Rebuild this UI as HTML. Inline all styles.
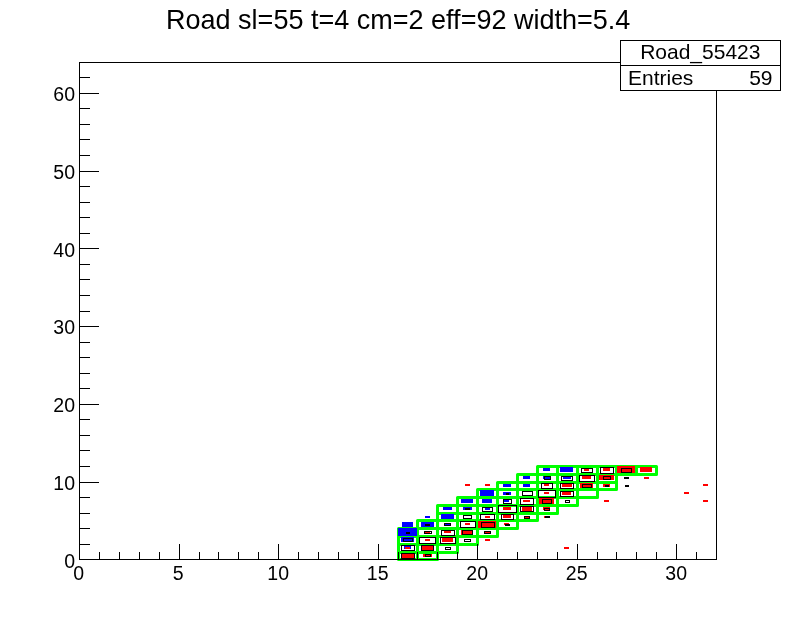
<!DOCTYPE html>
<html><head><meta charset="utf-8"><title>Road sl=55 t=4 cm=2 eff=92 width=5.4</title>
<style>html,body{margin:0;padding:0;background:#fff}svg{display:block}text{font-family:"Liberation Sans",sans-serif;fill:#000}</style></head><body>
<svg width="796" height="622" viewBox="0 0 796 622">
<rect x="0" y="0" width="796" height="622" fill="#fff"/>
<g shape-rendering="crispEdges">
<g fill="none" stroke="#00ff00" stroke-width="3" stroke-linejoin="round" shape-rendering="geometricPrecision">
<rect x="398.5" y="552.5" width="19.0" height="7.0"/>
<rect x="398.5" y="544.5" width="19.0" height="8.0"/>
<rect x="398.5" y="536.5" width="19.0" height="8.0"/>
<rect x="398.5" y="528.5" width="19.0" height="8.0"/>
<rect x="417.5" y="552.5" width="20.0" height="7.0"/>
<rect x="417.5" y="544.5" width="20.0" height="8.0"/>
<rect x="417.5" y="536.5" width="20.0" height="8.0"/>
<rect x="417.5" y="528.5" width="20.0" height="8.0"/>
<rect x="417.5" y="520.5" width="20.0" height="8.0"/>
<rect x="437.5" y="544.5" width="20.0" height="8.0"/>
<rect x="437.5" y="536.5" width="20.0" height="8.0"/>
<rect x="437.5" y="528.5" width="20.0" height="8.0"/>
<rect x="437.5" y="520.5" width="20.0" height="8.0"/>
<rect x="437.5" y="513.5" width="20.0" height="7.0"/>
<rect x="437.5" y="505.5" width="20.0" height="8.0"/>
<rect x="457.5" y="536.5" width="20.0" height="8.0"/>
<rect x="457.5" y="528.5" width="20.0" height="8.0"/>
<rect x="457.5" y="520.5" width="20.0" height="8.0"/>
<rect x="457.5" y="513.5" width="20.0" height="7.0"/>
<rect x="457.5" y="505.5" width="20.0" height="8.0"/>
<rect x="457.5" y="497.5" width="20.0" height="8.0"/>
<rect x="477.5" y="528.5" width="20.0" height="8.0"/>
<rect x="477.5" y="520.5" width="20.0" height="8.0"/>
<rect x="477.5" y="513.5" width="20.0" height="7.0"/>
<rect x="477.5" y="505.5" width="20.0" height="8.0"/>
<rect x="477.5" y="497.5" width="20.0" height="8.0"/>
<rect x="477.5" y="489.5" width="20.0" height="8.0"/>
<rect x="497.5" y="520.5" width="20.0" height="8.0"/>
<rect x="497.5" y="513.5" width="20.0" height="7.0"/>
<rect x="497.5" y="505.5" width="20.0" height="8.0"/>
<rect x="497.5" y="497.5" width="20.0" height="8.0"/>
<rect x="497.5" y="489.5" width="20.0" height="8.0"/>
<rect x="497.5" y="482.5" width="20.0" height="7.0"/>
<rect x="517.5" y="513.5" width="20.0" height="7.0"/>
<rect x="517.5" y="505.5" width="20.0" height="8.0"/>
<rect x="517.5" y="497.5" width="20.0" height="8.0"/>
<rect x="517.5" y="489.5" width="20.0" height="8.0"/>
<rect x="517.5" y="482.5" width="20.0" height="7.0"/>
<rect x="517.5" y="474.5" width="20.0" height="8.0"/>
<rect x="537.5" y="505.5" width="20.0" height="8.0"/>
<rect x="537.5" y="497.5" width="20.0" height="8.0"/>
<rect x="537.5" y="489.5" width="20.0" height="8.0"/>
<rect x="537.5" y="482.5" width="20.0" height="7.0"/>
<rect x="537.5" y="474.5" width="20.0" height="8.0"/>
<rect x="537.5" y="466.5" width="20.0" height="8.0"/>
<rect x="557.5" y="497.5" width="20.0" height="8.0"/>
<rect x="557.5" y="489.5" width="20.0" height="8.0"/>
<rect x="557.5" y="482.5" width="20.0" height="7.0"/>
<rect x="557.5" y="474.5" width="20.0" height="8.0"/>
<rect x="557.5" y="466.5" width="20.0" height="8.0"/>
<rect x="577.5" y="489.5" width="20.0" height="8.0"/>
<rect x="577.5" y="482.5" width="20.0" height="7.0"/>
<rect x="577.5" y="474.5" width="20.0" height="8.0"/>
<rect x="577.5" y="466.5" width="20.0" height="8.0"/>
<rect x="597.5" y="482.5" width="19.0" height="7.0"/>
<rect x="597.5" y="474.5" width="19.0" height="8.0"/>
<rect x="597.5" y="466.5" width="19.0" height="8.0"/>
<rect x="616.5" y="466.5" width="20.0" height="8.0"/>
<rect x="636.5" y="466.5" width="20.0" height="8.0"/>
</g>
<g fill="#0000ff">
<rect x="404" y="546" width="7" height="3"/>
<rect x="401" y="537" width="13" height="5"/>
<rect x="398" y="528" width="19" height="8"/>
<rect x="402" y="522" width="11" height="5"/>
<rect x="421" y="522" width="13" height="5"/>
<rect x="425" y="516" width="5" height="2"/>
<rect x="445" y="523" width="5" height="2"/>
<rect x="441" y="514" width="13" height="5"/>
<rect x="443" y="507" width="9" height="3"/>
<rect x="463" y="507" width="9" height="3"/>
<rect x="461" y="499" width="12" height="4"/>
<rect x="485" y="508" width="5" height="2"/>
<rect x="482" y="499" width="10" height="4"/>
<rect x="480" y="490" width="14" height="6"/>
<rect x="504" y="500" width="5" height="2"/>
<rect x="503" y="492" width="8" height="3"/>
<rect x="503" y="484" width="8" height="3"/>
<rect x="523" y="484" width="7" height="3"/>
<rect x="523" y="476" width="7" height="3"/>
<rect x="543" y="476" width="8" height="3"/>
<rect x="543" y="468" width="7" height="3"/>
<rect x="563" y="476" width="8" height="3"/>
<rect x="560" y="467" width="13" height="5"/>
</g>
<g fill="#ff0000">
<rect x="401" y="553" width="13" height="5"/>
<rect x="405" y="547" width="5" height="2"/>
<rect x="423" y="554" width="9" height="3"/>
<rect x="421" y="545" width="13" height="5"/>
<rect x="425" y="539" width="5" height="2"/>
<rect x="425" y="531" width="5" height="2"/>
<rect x="442" y="538" width="11" height="4"/>
<rect x="444" y="531" width="7" height="2"/>
<rect x="461" y="530" width="12" height="5"/>
<rect x="465" y="523" width="5" height="2"/>
<rect x="485" y="539" width="5" height="2"/>
<rect x="485" y="531" width="5" height="2"/>
<rect x="478" y="521" width="18" height="7"/>
<rect x="485" y="516" width="5" height="2"/>
<rect x="504" y="523" width="5" height="2"/>
<rect x="503" y="515" width="8" height="3"/>
<rect x="524" y="516" width="5" height="2"/>
<rect x="544" y="516" width="5" height="2"/>
<rect x="564" y="547" width="5" height="2"/>
<rect x="465" y="484" width="5" height="2"/>
<rect x="485" y="484" width="5" height="2"/>
<rect x="503" y="507" width="8" height="3"/>
<rect x="522" y="507" width="10" height="4"/>
<rect x="523" y="500" width="7" height="2"/>
<rect x="543" y="507" width="7" height="3"/>
<rect x="539" y="498" width="15" height="6"/>
<rect x="544" y="492" width="5" height="2"/>
<rect x="544" y="484" width="5" height="2"/>
<rect x="562" y="492" width="9" height="3"/>
<rect x="562" y="484" width="10" height="3"/>
<rect x="580" y="483" width="13" height="5"/>
<rect x="582" y="476" width="9" height="3"/>
<rect x="584" y="469" width="5" height="2"/>
<rect x="604" y="500" width="5" height="2"/>
<rect x="603" y="484" width="7" height="3"/>
<rect x="599" y="475" width="15" height="5"/>
<rect x="603" y="468" width="7" height="3"/>
<rect x="617" y="466" width="18" height="7"/>
<rect x="640" y="467" width="12" height="5"/>
<rect x="644" y="477" width="5" height="2"/>
<rect x="684" y="492" width="5" height="2"/>
<rect x="703" y="484" width="5" height="2"/>
<rect x="703" y="500" width="5" height="2"/>
</g>
<g fill="none" stroke="#000" stroke-width="1">
<rect x="401.5" y="553.5" width="13" height="5"/>
<rect x="401.5" y="545.5" width="13" height="5"/>
<rect x="403.5" y="538.5" width="9" height="3"/>
<rect x="406" y="532" width="4" height="2" fill="#000" stroke="none"/>
<rect x="425.5" y="554.5" width="5" height="2"/>
<rect x="421.5" y="545.5" width="12" height="5"/>
<rect x="419.5" y="537.5" width="16" height="6"/>
<rect x="424.5" y="531.5" width="7" height="2"/>
<rect x="425" y="524" width="5" height="2" fill="#000" stroke="none"/>
<rect x="445.5" y="547.5" width="5" height="2"/>
<rect x="440.5" y="537.5" width="15" height="6"/>
<rect x="441.5" y="530.5" width="13" height="5"/>
<rect x="444.5" y="523.5" width="6" height="2"/>
<rect x="464.5" y="539.5" width="6" height="2"/>
<rect x="462.5" y="530.5" width="10" height="4"/>
<rect x="460.5" y="521.5" width="15" height="6"/>
<rect x="463.5" y="515.5" width="8" height="3"/>
<rect x="484.5" y="531.5" width="6" height="2"/>
<rect x="481.5" y="522.5" width="13" height="5"/>
<rect x="480.5" y="514.5" width="14" height="5"/>
<rect x="505" y="524" width="5" height="2" fill="#000" stroke="none"/>
<rect x="501.5" y="514.5" width="12" height="5"/>
<rect x="524.5" y="516.5" width="5" height="2"/>
<rect x="545" y="516" width="5" height="2" fill="#000" stroke="none"/>
<rect x="465" y="508" width="5" height="2" fill="#000" stroke="none"/>
<rect x="482.5" y="507.5" width="10" height="4"/>
<rect x="498.5" y="505.5" width="18" height="7"/>
<rect x="503.5" y="499.5" width="8" height="4"/>
<rect x="506" y="493" width="3" height="2" fill="#000" stroke="none"/>
<rect x="520.5" y="506.5" width="13" height="5"/>
<rect x="520.5" y="498.5" width="13" height="6"/>
<rect x="522.5" y="491.5" width="10" height="4"/>
<rect x="544.5" y="508.5" width="5" height="2"/>
<rect x="542.5" y="499.5" width="9" height="4"/>
<rect x="538.5" y="490.5" width="17" height="7"/>
<rect x="541.5" y="483.5" width="11" height="5"/>
<rect x="544.5" y="476.5" width="6" height="3"/>
<rect x="565.5" y="500.5" width="4" height="2"/>
<rect x="560.5" y="491.5" width="13" height="5"/>
<rect x="560.5" y="483.5" width="13" height="5"/>
<rect x="561.5" y="476.5" width="11" height="4"/>
<rect x="582.5" y="484.5" width="9" height="3"/>
<rect x="579.5" y="475.5" width="15" height="6"/>
<rect x="581.5" y="468.5" width="11" height="4"/>
<rect x="605" y="485" width="4" height="2" fill="#000" stroke="none"/>
<rect x="603.5" y="476.5" width="7" height="3"/>
<rect x="600.5" y="467.5" width="13" height="6"/>
<rect x="621.5" y="468.5" width="10" height="4"/>
<rect x="624" y="477" width="5" height="2" fill="#000" stroke="none"/>
<rect x="625" y="485" width="4" height="2" fill="#000" stroke="none"/>
</g>
</g>
<g stroke="#000" stroke-width="1" fill="none" shape-rendering="crispEdges">
<rect x="79.5" y="62.5" width="637.0" height="497.0"/>
<line x1="79.5" y1="559.5" x2="79.5" y2="543.5"/>
<line x1="99.5" y1="559.5" x2="99.5" y2="551.5"/>
<line x1="119.5" y1="559.5" x2="119.5" y2="551.5"/>
<line x1="139.5" y1="559.5" x2="139.5" y2="551.5"/>
<line x1="159.5" y1="559.5" x2="159.5" y2="551.5"/>
<line x1="179.5" y1="559.5" x2="179.5" y2="543.5"/>
<line x1="199.5" y1="559.5" x2="199.5" y2="551.5"/>
<line x1="218.5" y1="559.5" x2="218.5" y2="551.5"/>
<line x1="238.5" y1="559.5" x2="238.5" y2="551.5"/>
<line x1="258.5" y1="559.5" x2="258.5" y2="551.5"/>
<line x1="278.5" y1="559.5" x2="278.5" y2="543.5"/>
<line x1="298.5" y1="559.5" x2="298.5" y2="551.5"/>
<line x1="318.5" y1="559.5" x2="318.5" y2="551.5"/>
<line x1="338.5" y1="559.5" x2="338.5" y2="551.5"/>
<line x1="358.5" y1="559.5" x2="358.5" y2="551.5"/>
<line x1="378.5" y1="559.5" x2="378.5" y2="543.5"/>
<line x1="398.5" y1="559.5" x2="398.5" y2="551.5"/>
<line x1="417.5" y1="559.5" x2="417.5" y2="551.5"/>
<line x1="437.5" y1="559.5" x2="437.5" y2="551.5"/>
<line x1="457.5" y1="559.5" x2="457.5" y2="551.5"/>
<line x1="477.5" y1="559.5" x2="477.5" y2="543.5"/>
<line x1="497.5" y1="559.5" x2="497.5" y2="551.5"/>
<line x1="517.5" y1="559.5" x2="517.5" y2="551.5"/>
<line x1="537.5" y1="559.5" x2="537.5" y2="551.5"/>
<line x1="557.5" y1="559.5" x2="557.5" y2="551.5"/>
<line x1="577.5" y1="559.5" x2="577.5" y2="543.5"/>
<line x1="597.5" y1="559.5" x2="597.5" y2="551.5"/>
<line x1="616.5" y1="559.5" x2="616.5" y2="551.5"/>
<line x1="636.5" y1="559.5" x2="636.5" y2="551.5"/>
<line x1="656.5" y1="559.5" x2="656.5" y2="551.5"/>
<line x1="676.5" y1="559.5" x2="676.5" y2="543.5"/>
<line x1="696.5" y1="559.5" x2="696.5" y2="551.5"/>
<line x1="716.5" y1="559.5" x2="716.5" y2="551.5"/>
<line x1="79.5" y1="559.5" x2="98.5" y2="559.5"/>
<line x1="79.5" y1="544.5" x2="89.5" y2="544.5"/>
<line x1="79.5" y1="528.5" x2="89.5" y2="528.5"/>
<line x1="79.5" y1="513.5" x2="89.5" y2="513.5"/>
<line x1="79.5" y1="497.5" x2="89.5" y2="497.5"/>
<line x1="79.5" y1="482.5" x2="98.5" y2="482.5"/>
<line x1="79.5" y1="466.5" x2="89.5" y2="466.5"/>
<line x1="79.5" y1="450.5" x2="89.5" y2="450.5"/>
<line x1="79.5" y1="435.5" x2="89.5" y2="435.5"/>
<line x1="79.5" y1="419.5" x2="89.5" y2="419.5"/>
<line x1="79.5" y1="404.5" x2="98.5" y2="404.5"/>
<line x1="79.5" y1="388.5" x2="89.5" y2="388.5"/>
<line x1="79.5" y1="373.5" x2="89.5" y2="373.5"/>
<line x1="79.5" y1="357.5" x2="89.5" y2="357.5"/>
<line x1="79.5" y1="342.5" x2="89.5" y2="342.5"/>
<line x1="79.5" y1="326.5" x2="98.5" y2="326.5"/>
<line x1="79.5" y1="311.5" x2="89.5" y2="311.5"/>
<line x1="79.5" y1="295.5" x2="89.5" y2="295.5"/>
<line x1="79.5" y1="279.5" x2="89.5" y2="279.5"/>
<line x1="79.5" y1="264.5" x2="89.5" y2="264.5"/>
<line x1="79.5" y1="248.5" x2="98.5" y2="248.5"/>
<line x1="79.5" y1="233.5" x2="89.5" y2="233.5"/>
<line x1="79.5" y1="217.5" x2="89.5" y2="217.5"/>
<line x1="79.5" y1="202.5" x2="89.5" y2="202.5"/>
<line x1="79.5" y1="186.5" x2="89.5" y2="186.5"/>
<line x1="79.5" y1="171.5" x2="98.5" y2="171.5"/>
<line x1="79.5" y1="155.5" x2="89.5" y2="155.5"/>
<line x1="79.5" y1="139.5" x2="89.5" y2="139.5"/>
<line x1="79.5" y1="124.5" x2="89.5" y2="124.5"/>
<line x1="79.5" y1="108.5" x2="89.5" y2="108.5"/>
<line x1="79.5" y1="93.5" x2="98.5" y2="93.5"/>
<line x1="79.5" y1="77.5" x2="89.5" y2="77.5"/>
<line x1="79.5" y1="62.5" x2="89.5" y2="62.5"/>
</g>
<text x="78.6" y="579.6" font-size="19.5" text-anchor="middle">0</text>
<text x="178.1" y="579.6" font-size="19.5" text-anchor="middle">5</text>
<text x="278.2" y="579.6" font-size="19.5" text-anchor="middle">10</text>
<text x="377.7" y="579.6" font-size="19.5" text-anchor="middle">15</text>
<text x="477.2" y="579.6" font-size="19.5" text-anchor="middle">20</text>
<text x="576.7" y="579.6" font-size="19.5" text-anchor="middle">25</text>
<text x="676.2" y="579.6" font-size="19.5" text-anchor="middle">30</text>
<text x="75" y="567.6" font-size="19.5" text-anchor="end">0</text>
<text x="75" y="489.8" font-size="19.5" text-anchor="end">10</text>
<text x="75" y="412.1" font-size="19.5" text-anchor="end">20</text>
<text x="75" y="334.3" font-size="19.5" text-anchor="end">30</text>
<text x="75" y="256.6" font-size="19.5" text-anchor="end">40</text>
<text x="75" y="178.8" font-size="19.5" text-anchor="end">50</text>
<text x="75" y="101.1" font-size="19.5" text-anchor="end">60</text>
<text x="398.2" y="29" font-size="27.03" text-anchor="middle">Road sl=55 t=4 cm=2 eff=92 width=5.4</text>
<g stroke="#000" stroke-width="1" fill="#fff" shape-rendering="crispEdges"><rect x="620.5" y="40.5" width="160" height="50"/><line x1="620.5" y1="65.5" x2="780.5" y2="65.5"/></g>
<text x="700.3" y="59" font-size="21" text-anchor="middle">Road_55423</text>
<text x="628" y="84.5" font-size="21">Entries</text>
<text x="772.5" y="84.5" font-size="21" text-anchor="end">59</text>
</svg></body></html>
